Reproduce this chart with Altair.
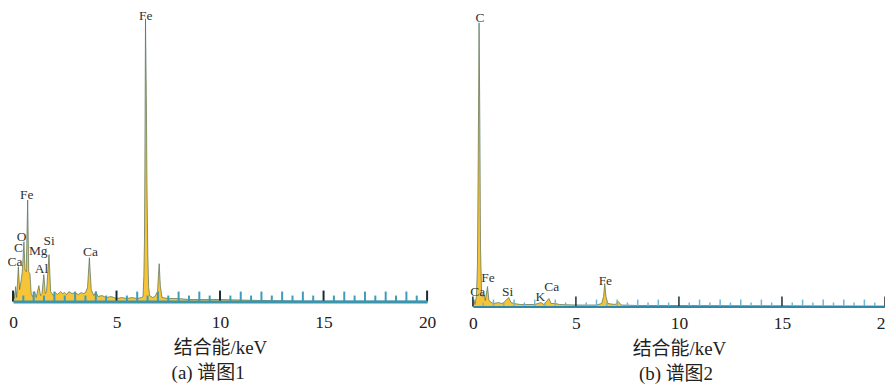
import altair as alt
import pandas as pd

# ---------------- data ----------------
# Panel (a): spectrum 1 (energy keV, counts in arbitrary units)
a_energy = [0.00, 0.05, 0.08, 0.13, 0.18, 0.26, 0.32, 0.40, 0.45, 0.53, 0.58, 0.64, 0.71, 0.76,
            0.82, 0.88, 0.95, 1.05, 1.12, 1.25, 1.33, 1.40, 1.49, 1.56, 1.62, 1.74, 1.82, 1.95,
            2.05, 2.15, 2.30, 2.40, 2.50, 2.60, 2.70, 2.85, 3.00, 3.15, 3.30, 3.40, 3.50, 3.60,
            3.69, 3.78, 3.90, 4.01, 4.10, 4.30, 4.50, 4.75, 5.00, 5.25, 5.50, 5.75, 6.00, 6.20,
            6.28, 6.32, 6.35, 6.37, 6.40, 6.44, 6.47, 6.51, 6.55, 6.60, 6.75, 6.85, 6.98, 7.06,
            7.12, 7.20, 7.50, 8.00, 8.50, 9.00, 10.0, 11.0, 12.0, 13.0, 14.0, 20.0]
a_counts = [0, 9, 3, 15, 4, 35, 12, 22, 30, 60, 32, 30, 102, 30,
            28, 8, 5, 10, 4, 16, 6, 8, 27, 8, 10, 47, 10, 6,
            9, 7, 10, 8, 9, 7, 10, 8, 9, 7, 9, 8, 9, 14,
            44, 12, 6, 10, 5, 6, 4, 5, 3, 4, 3, 4, 3, 4,
            5, 25, 60, 135, 284, 208, 120, 50, 15, 6, 4, 5, 10, 38,
            15, 4, 3, 3, 2, 2, 2, 1.5, 1, 0.8, 0.5, 0.3]

# Panel (b): spectrum 2
b_energy = [0.00, 0.05, 0.10, 0.17, 0.22, 0.26, 0.30, 0.34, 0.37, 0.42, 0.48, 0.55, 0.60, 0.71,
            0.78, 0.90, 1.00, 1.25, 1.40, 1.50, 1.74, 1.85, 2.00, 2.30, 2.50, 3.00, 3.31, 3.45,
            3.69, 3.80, 4.01, 4.20, 5.00, 6.00, 6.25, 6.34, 6.40, 6.46, 6.55, 6.90, 7.06, 7.20,
            8.00, 10.0, 20.0]
b_counts = [0, 7, 2, 10, 40, 150, 285, 180, 60, 15, 10, 12, 6, 20,
            6, 4, 3, 4, 3, 4, 9, 4, 3, 2, 2, 2, 4, 2,
            8, 3, 3, 2, 1.5, 1.5, 3, 10, 23, 10, 3, 2, 5, 1.5,
            1, 1, 0.5]

# element labels: name, energy position, height
a_lbl_name = ["Fe", "Fe", "O", "C", "Ca", "Mg", "Si", "Al", "Ca"]
a_lbl_e = [6.41, 0.66, 0.42, 0.26, 0.10, 1.22, 1.75, 1.38, 3.74]
a_lbl_h = [287, 107, 65, 54, 40, 51, 61, 33, 50]

b_lbl_name = ["C", "Fe", "Ca", "Si", "K", "Ca", "Fe"]
b_lbl_e = [0.35, 0.73, 0.24, 1.69, 3.28, 3.83, 6.43]
b_lbl_h = [290, 29, 15, 15, 10, 20, 26]

# axis ticks
tick_labels = [0, 5, 10, 15, 20]
major_ticks = [0, 5, 10, 15, 20]
minor_tall = [1, 2, 3, 4, 6, 7, 8, 9, 11, 12, 13, 14, 16, 17, 18, 19]
minor_short = [0.5, 1.5, 2.5, 3.5, 4.5, 5.5, 6.5, 7.5, 8.5, 9.5, 10.5, 11.5, 12.5, 13.5,
               14.5, 15.5, 16.5, 17.5, 18.5, 19.5]

captions = ["(a) 谱图1", "(b) 谱图2"]
x_title = "结合能/keV"

SERIF = "Liberation Serif, Noto Sans CJK SC"
YELLOW = "#F8C437"
DARK = "#4d6b55"


def panel(energy, counts, names, le, lh, width, height, caption, base_color, base_w,
          minor_color, tick_w, h_major, h_tall, h_short, label_pad, title_pad, cap_dx, cap_off):
    spec = pd.DataFrame({"E": energy, "C": counts})
    lbl = pd.DataFrame({"E": le, "H": lh, "name": names})
    x = alt.X("E:Q", scale=alt.Scale(domain=[0, 20], nice=False, zero=False),
              axis=alt.Axis(values=tick_labels, ticks=False, grid=False, domain=True,
                            domainColor=base_color, domainWidth=base_w, labelFlush=False,
                            labelFont=SERIF, labelFontSize=17.5, labelColor="#222",
                            labelPadding=label_pad, title=x_title, titleFont=SERIF,
                            titleFontSize=19, titleFontWeight="normal", titleColor="#222",
                            titlePadding=title_pad, zindex=1, format="d"))
    y = alt.Y("C:Q", scale=alt.Scale(domain=[0, height], nice=False), axis=None)
    area = alt.Chart(spec).mark_area(color=YELLOW, interpolate="linear").encode(x=x, y=y)
    line = alt.Chart(spec).mark_line(color=DARK, strokeWidth=0.8, opacity=0.85).encode(x="E:Q", y="C:Q")

    def ticks(vals, h, color):
        return alt.Chart(pd.DataFrame({"E": vals})).mark_rule(color=color, strokeWidth=tick_w).encode(
            x="E:Q", y=alt.value(height - h), y2=alt.value(height))

    t_short = ticks(minor_short, h_short, minor_color)
    t_tall = ticks(minor_tall, h_tall, minor_color)
    t_major = ticks(major_ticks, h_major, "#1c2b33")
    text = alt.Chart(lbl).mark_text(font="Liberation Serif", fontSize=13.5, color="#333",
                                    baseline="middle", align="center").encode(
        x="E:Q", y=alt.Y("H:Q"), text="name:N")
    return alt.layer(area, line, t_short, t_tall, t_major, text).properties(
        width=width, height=height,
        title=alt.TitleParams(caption, orient="bottom", anchor="middle", dx=cap_dx, offset=cap_off,
                              font=SERIF, fontSize=19, fontWeight="normal", color="#222"))


pa = panel(a_energy, a_counts, a_lbl_name, a_lbl_e, a_lbl_h, 416, 296, captions[0],
           "#3a95b0", 3, "#3d9cb8", 2, 11, 10, 6, 12, 8, -12, 6)
pb = panel(b_energy, b_counts, b_lbl_name, b_lbl_e, b_lbl_h, 414, 301, captions[1],
           "#2f88a8", 2, "#6cb8d6", 1.5, 10, 7, 4, 8, 8, -3, 6)

chart = alt.hconcat(pa, pb, spacing=46, bounds="flush").configure_view(stroke=None).properties(
    padding={"left": -1, "top": -2, "right": -9, "bottom": 0})

chart.save("out.html", embed_options={"renderer": "svg", "actions": False})
